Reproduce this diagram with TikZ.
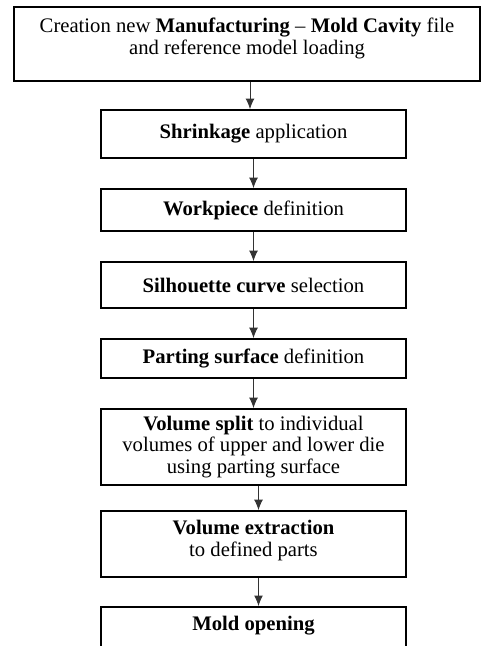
\documentclass[tikz,border=0pt]{standalone}
\usepackage{fontspec}
\setmainfont{Liberation Serif}
\usetikzlibrary{arrows.meta,positioning}

\begin{document}
\begin{tikzpicture}[
  font=\fontsize{14.7}{15.6}\selectfont,
  stepbox/.style={draw,line width=1.3pt,align=center,minimum width=7.625cm,inner sep=0pt},
  txt/.style={align=center,inner sep=0pt},
  arr/.style={-{Latex[length=2.6mm,width=2.2mm]},line width=0.6pt,color=black!80},
]
\useasboundingbox (0,0) rectangle (12.025,-16.15);
\clip (0,0) rectangle (12.025,-16.15);

% first step
\node[stepbox,minimum width=11.65cm,minimum height=1.85cm] (create) at (6.175,-1.1) {};
\node[txt,anchor=north] at (6.175,-0.45) {Creation new \textbf{Manufacturing} -- \textbf{Mold Cavity} file\\and reference model loading};

% steps
\node[stepbox,minimum height=1.2cm]   (shrink)  at (6.3375,-3.35)   {\textbf{Shrinkage} application};
\node[stepbox,minimum height=1.05cm]  (work)    at (6.3375,-5.25)   {\textbf{Workpiece} definition};
\node[stepbox,minimum height=1.15cm]  (curve)   at (6.3375,-7.125)  {\textbf{Silhouette curve} selection};
\node[stepbox,minimum height=0.975cm] (parting) at (6.3375,-8.9625) {\textbf{Parting surface} definition};
\node[stepbox,minimum height=1.9cm]   (split)   at (6.3375,-11.175) {\textbf{Volume split} to individual\\volumes of upper and lower die\\using parting surface};
\node[stepbox,minimum height=1.65cm]  (extract) at (6.3375,-13.6)   {\textbf{Volume extraction}\\to defined parts\\[-0.25cm]};

% last step (cut at the bottom)
\node[stepbox,minimum height=1.6cm,anchor=north] (open) at (6.3375,-15.15) {};
\node[txt,anchor=north] at (6.3375,-15.40) {\textbf{Mold opening}};

% arrows
\draw[arr] ([xshift=0.075cm]create.south) -- ([xshift=-0.0875cm]shrink.north);
\draw[arr] (shrink) -- (work);
\draw[arr] (work) -- (curve);
\draw[arr] (curve) -- (parting);
\draw[arr] (parting) -- (split);
\draw[arr] ([xshift=0.125cm]split.south) -- ([xshift=0.125cm]extract.north);
\draw[arr] ([xshift=0.125cm]extract.south) -- ([xshift=0.125cm]open.north);

\end{tikzpicture}
\end{document}
